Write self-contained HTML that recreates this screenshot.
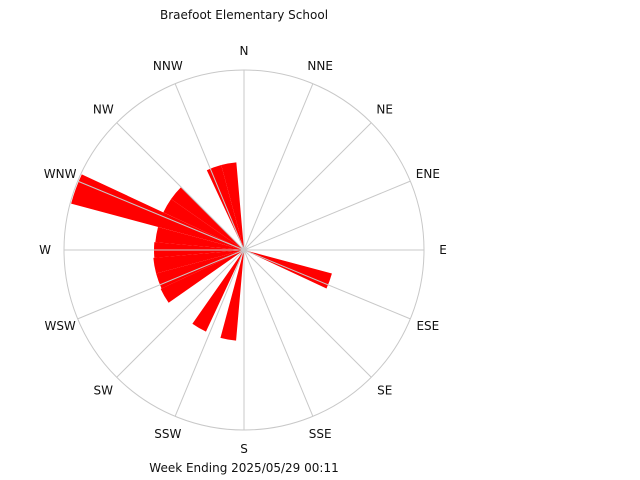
<!DOCTYPE html>
<html><head><meta charset="utf-8"><style>
html,body{margin:0;padding:0;background:#fff;}
svg{display:block;}
text{font-family:"DejaVu Sans","Liberation Sans",sans-serif;font-size:12px;fill:#111;}
</style></head><body>
<svg id="chart" width="640" height="480" viewBox="0 0 640 480">
<rect width="640" height="480" fill="#fff"/>
<text x="244" y="19" text-anchor="middle">Braefoot Elementary School</text>
<g id="wedges"></g>
<g id="grid"></g>
<g id="labels"></g>
<text x="244" y="472" text-anchor="middle">Week Ending 2025/05/29 00:11</text>
</svg>
<script>
const binBearings = [110, 190, 210, 240, 250, 260, 270, 280, 290, 300, 310, 340, 350];
const binValues   = [91, 91, 90, 92, 91, 91, 90, 89, 179, 89, 89, 88, 88];
const dirLabels = ["N","NNE","NE","ENE","E","ESE","SE","SSE","S","SSW","SW","WSW","W","WNW","NW","NNW"];
const maxValue = 180;

const cx = 244, cy = 250, R = 180, binWidth = 10;
const NS = "http://www.w3.org/2000/svg";
function rScale(v){ return v / maxValue * R; }
function pt(bearing, r){ const a = bearing*Math.PI/180; return [cx + r*Math.sin(a), cy - r*Math.cos(a)]; }

const wg = document.getElementById('wedges');
binBearings.forEach((b,i)=>{
  const r = rScale(binValues[i]);
  const p1 = pt(b - binWidth/2, r), p2 = pt(b + binWidth/2, r);
  const path = document.createElementNS(NS,'path');
  path.setAttribute('d', `M${cx},${cy} L${p1[0]},${p1[1]} A${r},${r} 0 0 1 ${p2[0]},${p2[1]} Z`);
  path.setAttribute('fill','#ff0000');
  
  
  wg.appendChild(path);
});

const gg = document.getElementById('grid');
const circ = document.createElementNS(NS,'circle');
circ.setAttribute('cx',cx); circ.setAttribute('cy',cy); circ.setAttribute('r',R);
circ.setAttribute('fill','none'); circ.setAttribute('stroke','#c8c8c8'); circ.setAttribute('stroke-width','1');


gg.appendChild(circ);
const lg = document.getElementById('labels');
dirLabels.forEach((lab,i)=>{
  const b = i*22.5;
  const p = pt(b, R);
  const ln = document.createElementNS(NS,'line');
  ln.setAttribute('x1',cx); ln.setAttribute('y1',cy); ln.setAttribute('x2',p[0]); ln.setAttribute('y2',p[1]);
  ln.setAttribute('stroke','#c8c8c8'); ln.setAttribute('stroke-width','1');
  
  
  gg.appendChild(ln);
  const q = pt(b, 199);
  const t = document.createElementNS(NS,'text');
  t.setAttribute('x', q[0]); t.setAttribute('y', q[1]+4);
  t.setAttribute('text-anchor','middle');
  t.textContent = lab;
  
  
  lg.appendChild(t);
});
</script>
</body></html>
